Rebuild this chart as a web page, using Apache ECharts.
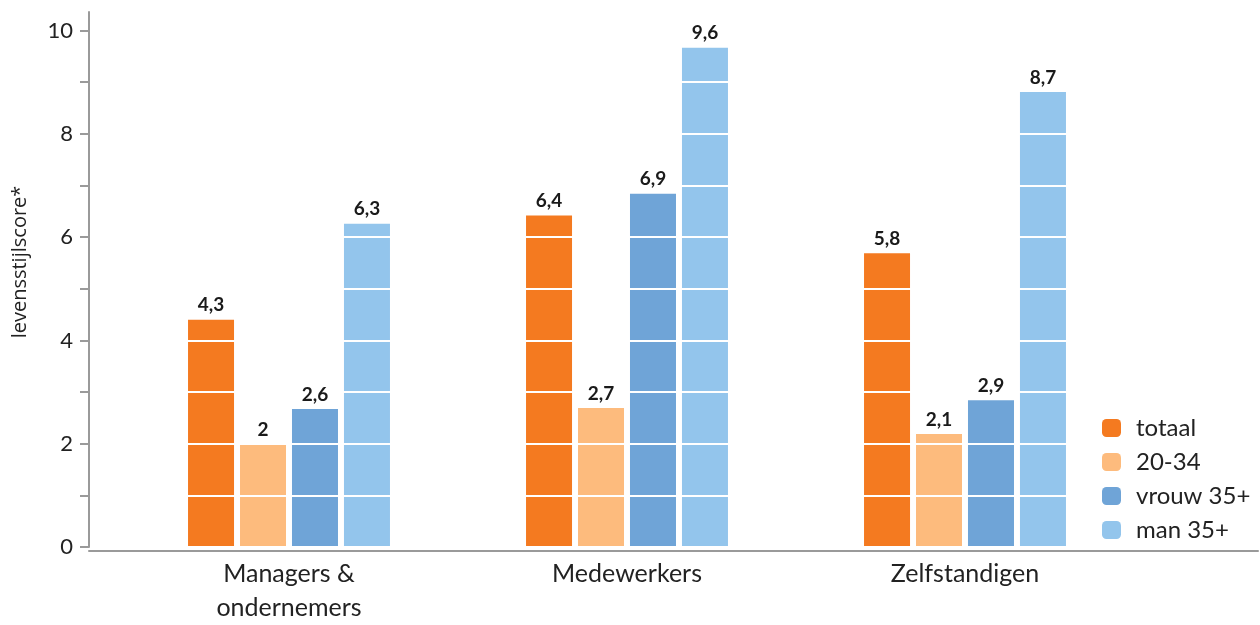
<!DOCTYPE html>
<html>
<head>
<meta charset="utf-8">
<script src="https://cdn.jsdelivr.net/npm/echarts@6/dist/echarts.min.js"></script>
<style>html,body{margin:0;padding:0;background:#fff}#c{width:1260px;height:625px}</style>
</head>
<body>
<div id="c"></div>
<script>
var categories = ['Managers &\nondernemers', 'Medewerkers', 'Zelfstandigen'];
var seriesNames = ['totaal', '20-34', 'vrouw 35+', 'man 35+'];
var colors = ['#F47A20', '#FDBB7D', '#6FA4D7', '#93C5EC'];
// bar heights as drawn
var totaal = [4.40, 6.42, 5.69];
var jong = [1.98, 2.69, 2.19];
var vrouw35 = [2.67, 6.84, 2.84];
var man35 = [6.26, 9.67, 8.81];
// printed value labels
var totaalLabels = ['4,3', '6,4', '5,8'];
var jongLabels = ['2', '2,7', '2,1'];
var vrouw35Labels = ['2,6', '6,9', '2,9'];
var man35Labels = ['6,3', '9,6', '8,7'];
var yTicks = [0, 1, 2, 3, 4, 5, 6, 7, 8, 9, 10];
var yLabels = [0, 2, 4, 6, 8, 10];
var yName = 'levensstijlscore*';

var values = [totaal, jong, vrouw35, man35];
var labels = [totaalLabels, jongLabels, vrouw35Labels, man35Labels];
var FONT = 'Lato, "Noto Sans", sans-serif';
var AXIS = '#9a9a9a';

var barSeries = seriesNames.map(function (name, i) {
  return {
    name: name, type: 'bar', xAxisIndex: 0, yAxisIndex: 0, z: 2,
    data: values[i], barWidth: 46, barGap: '13%',
    itemStyle: { color: colors[i] }
  };
});
var labelSeries = seriesNames.map(function (name, i) {
  return {
    name: name, type: 'bar', xAxisIndex: 2, yAxisIndex: 0, z: 6, silent: true,
    data: values[i], barWidth: 46, barGap: '13%',
    itemStyle: { color: 'rgba(0,0,0,0)' },
    label: {
      show: true, position: 'top', distance: 5,
      fontSize: 19, fontWeight: 'bold', color: '#1a1a1a', fontFamily: FONT,
      formatter: function (p) { return labels[i][p.dataIndex]; }
    }
  };
});

var chart = echarts.init(document.getElementById('c'));
chart.setOption({
  animation: false,
  color: colors,
  textStyle: { fontFamily: FONT },
  grid: [
    { left: 120, right: 126, top: 12, bottom: 74 },
    { left: 89, right: 2, top: 12, bottom: 74 }
  ],
  legend: {
    orient: 'vertical',
    left: 1097,
    top: 411,
    itemWidth: 19,
    itemHeight: 18,
    itemGap: 10,
    icon: 'roundRect',
    data: seriesNames,
    textStyle: { fontSize: 24, color: '#222', fontFamily: FONT, padding: [0, 0, 0, 10] }
  },
  xAxis: [
    {
      type: 'category', gridIndex: 0, data: categories,
      axisLine: { show: false }, axisTick: { show: false },
      axisLabel: { fontSize: 25, color: '#222', lineHeight: 34, margin: 10, fontFamily: FONT, interval: 0 }
    },
    {
      type: 'category', gridIndex: 1, data: [''], z: 5,
      axisLine: { show: true, lineStyle: { color: AXIS, width: 2 } },
      axisTick: { show: false }, axisLabel: { show: false }
    },
    {
      type: 'category', gridIndex: 0, data: categories, show: false
    }
  ],
  yAxis: [
    {
      type: 'value', gridIndex: 0, min: 0, max: 10.36, interval: 1, offset: 31, z: 3,
      axisLine: { show: true, lineStyle: { color: AXIS, width: 2 } },
      axisTick: { show: true, length: 9, lineStyle: { color: AXIS, width: 2 }, customValues: yTicks },
      axisLabel: { fontSize: 22, color: '#222', margin: 16, fontFamily: FONT, customValues: yLabels },
      splitLine: { show: true, lineStyle: { color: '#ffffff', width: 2 } }
    },
    {
      type: 'value', gridIndex: 1, min: 0, max: 10.36, show: false
    }
  ],
  graphic: [
    {
      type: 'text', x: 20, y: 262, rotation: Math.PI / 2,
      style: { text: yName, fontSize: 20, fill: '#222', fontFamily: '"Open Sans", sans-serif',
        align: 'center', verticalAlign: 'middle' }
    }
  ],
  series: barSeries.concat(labelSeries)
});
</script>
</body>
</html>
